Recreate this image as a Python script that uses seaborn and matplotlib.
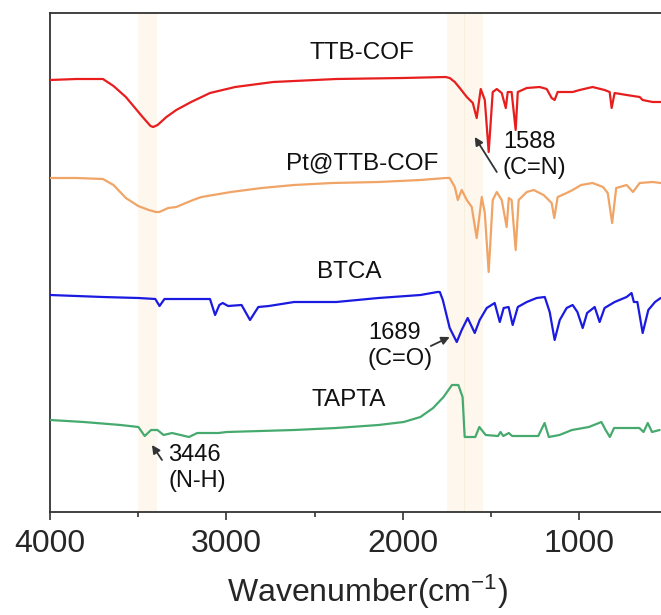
import numpy as np
import pandas as pd
import matplotlib
matplotlib.use("Agg")
import matplotlib.pyplot as plt
import seaborn as sns

# ---------------- data ----------------
samples = ["TTB-COF", "Pt@TTB-COF", "BTCA", "TAPTA"]

wn_ttb = [4000, 3850, 3700, 3640, 3570, 3475, 3430, 3415, 3390, 3340, 3284, 3200, 3093,
          2950, 2735, 2377, 2000, 1757, 1734, 1705, 1677, 1637, 1603, 1581, 1558, 1535,
          1513, 1490, 1467, 1439, 1416, 1405, 1383, 1360, 1348, 1297, 1224, 1184, 1156,
          1139, 1122, 1037, 997, 924, 856, 827, 816, 799, 731, 657, 640, 584, 538]
sig_ttb = [432, 433, 433, 426, 415, 395, 386, 385, 387, 395, 402, 410, 419,
           425, 430, 433, 434, 435, 434, 430, 424, 415, 409, 394, 423, 412,
           360, 420, 423, 419, 404, 420, 420, 382, 420, 424, 425, 423, 414,
           412, 420, 420, 422, 425, 422, 420, 404, 419, 417, 415, 412, 410, 410]

wn_pt = [4000, 3850, 3700, 3640, 3570, 3500, 3440, 3400, 3380, 3330, 3284, 3230, 3189,
         3141, 2974, 2800, 2616, 2400, 2138, 1900, 1757, 1734, 1705, 1688, 1666, 1637,
         1609, 1581, 1552, 1535, 1513, 1490, 1467, 1439, 1411, 1399, 1383, 1360, 1343,
         1297, 1258, 1202, 1173, 1156, 1141, 1122, 1071, 1037, 989, 924, 865, 838, 813,
         790, 731, 695, 657, 584, 538]
sig_pt = [334, 334, 333, 327, 314, 306, 302, 300, 300, 304, 305, 309, 312,
          315, 320, 324, 327, 329, 330, 332, 334, 334, 325, 312, 322, 312,
          305, 274, 315, 299, 240, 312, 320, 312, 285, 314, 312, 262, 312,
          320, 322, 317, 312, 309, 294, 315, 319, 322, 327, 329, 325, 319, 289,
          324, 327, 320, 329, 330, 329]

wn_btca = [4000, 3700, 3499, 3403, 3379, 3351, 3200, 3093, 3064, 3040, 3021, 2990, 2914,
           2866, 2819, 2759, 2616, 2377, 2138, 1900, 1804, 1790, 1773, 1734, 1694, 1666,
           1632, 1592, 1564, 1524, 1479, 1450, 1428, 1400, 1377, 1348, 1297, 1241, 1195,
           1167, 1139, 1110, 1071, 1037, 1010, 980, 955, 912, 884, 856, 799, 731, 703,
           690, 670, 640, 608, 570, 538]
sig_btca = [217, 215, 214, 213, 206, 213, 213, 213, 197, 207, 209, 206, 207,
            192, 205, 206, 210, 210, 214, 217, 220, 220, 212, 184, 170, 182,
            194, 179, 192, 204, 209, 190, 204, 205, 187, 205, 210, 214, 215,
            200, 172, 192, 204, 207, 200, 184, 199, 205, 190, 204, 210, 215, 219,
            210, 210, 179, 202, 210, 214]

wn_tapta = [4000, 3809, 3600, 3499, 3463, 3427, 3391, 3356, 3308, 3260, 3212, 3165, 3045,
            2998, 2616, 2377, 2138, 1995, 1900, 1828, 1769, 1721, 1685, 1661, 1649, 1589,
            1566, 1530, 1460, 1446, 1430, 1399, 1380, 1232, 1196, 1172, 1112, 1041, 945,
            874, 850, 826, 802, 754, 659, 635, 611, 587, 544]
sig_tapta = [92, 90, 87, 85, 76, 82, 82, 77, 79, 77, 75, 79, 79,
             80, 82, 84, 87, 90, 95, 104, 115, 127, 127, 115, 75, 75,
             85, 77, 76, 80, 76, 79, 76, 76, 89, 75, 77, 82, 85,
             90, 82, 75, 84, 84, 84, 80, 89, 80, 82]

colors = ["#E81E1E", "#F0A466", "#1A1AE0", "#46AA6E"]

tick_values = [4000, 3000, 2000, 1000]
tick_labels = ["4000", "3000", "2000", "1000"]
band_ranges = [(3500, 3394), (1751, 1655), (1655, 1547)]

# ---------------- build table ----------------
frames = []
for name, wn, sig in [(samples[0], wn_ttb, sig_ttb), (samples[1], wn_pt, sig_pt),
                      (samples[2], wn_btca, sig_btca), (samples[3], wn_tapta, sig_tapta)]:
    frames.append(pd.DataFrame({"wavenumber": wn, "signal": sig, "sample": name}))
df = pd.concat(frames, ignore_index=True)

# ---------------- style ----------------
sns.set_style("ticks")
plt.rcParams["font.family"] = ["Liberation Sans", "DejaVu Sans"]
plt.rcParams["mathtext.fontset"] = "custom"
plt.rcParams["mathtext.rm"] = "Liberation Sans"
plt.rcParams["mathtext.it"] = "Liberation Sans"

fig = plt.figure(figsize=(6.61, 6.15), dpi=100)
ax = fig.add_axes([50 / 661, 103 / 615, 635 / 661, 499 / 615])

for lo, hi in band_ranges:
    ax.axvspan(lo, hi, color="#FDF7EE", lw=0, zorder=0)
ax.axvline(1655, color="#F8EEDD", lw=0.8, zorder=0.5)

sns.lineplot(data=df, x="wavenumber", y="signal", hue="sample", hue_order=samples,
             palette=colors, legend=False, linewidth=1.6, estimator=None,
             sort=False, ax=ax, zorder=3)

ax.set_xlim(4000, 400)
ax.set_ylim(0, 499)
ax.set_xticks(tick_values)
ax.set_xticklabels(tick_labels)
ax.set_xticks([3500, 2500, 1500, 500], minor=True)
ax.set_yticks([])
ax.tick_params(axis="x", which="major", direction="out", length=6, width=1.1,
               labelsize=23, pad=6, color="#222222")
ax.tick_params(axis="x", which="minor", direction="out", length=3.5, width=1.1,
               color="#222222")
for s in ax.spines.values():
    s.set_linewidth(1.3)
    s.set_color("#333333")
ax.set_xlabel(r"Wavenumber(cm$^{-1}$)", fontsize=23, labelpad=10)
ax.set_ylabel("")

lab_kw = dict(fontsize=17.5, ha="center", va="center", color="#111111")
ax.text(2232, 459, "TTB-COF", **lab_kw)
ax.text(2232, 349, "Pt@TTB-COF", **lab_kw)
ax.text(2306, 240, "BTCA", **lab_kw)
ax.text(2306, 112, "TAPTA", **lab_kw)

ann_kw = dict(fontsize=17, ha="left", va="center", color="#111111", linespacing=1.25)
arrow = dict(arrowstyle="-|>", color="#333333", lw=1.3, mutation_scale=12,
             shrinkA=0, shrinkB=0)
ax.text(1433, 357, "1588\n(C=N)", **ann_kw)
ax.annotate("", xy=(1592, 375), xytext=(1467, 340), arrowprops=arrow)
ax.text(2198, 166, "1689\n(C=O)", **ann_kw)
ax.annotate("", xy=(1734, 175), xytext=(1841, 166), arrowprops=arrow)
ax.text(3331, 44, "3446\n(N-H)", **ann_kw)
ax.annotate("", xy=(3422, 67), xytext=(3365, 52), arrowprops=arrow)

fig.savefig("out.png", dpi=100)
